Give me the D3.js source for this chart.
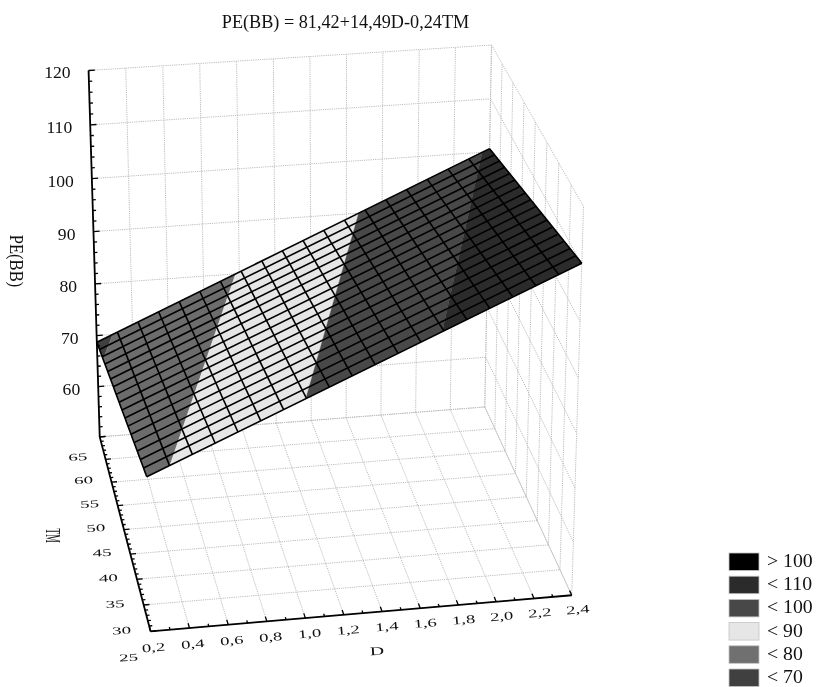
<!DOCTYPE html>
<html>
<head>
<meta charset="utf-8">
<style>
html,body{margin:0;padding:0;background:#fff;}
svg{display:block;filter:blur(0.4px);}
text{font-family:"Liberation Serif",serif;fill:#111;}
</style>
<script src="https://cdnjs.cloudflare.com/ajax/libs/d3/7.8.5/d3.min.js"></script>
</head>
<body>
<svg id="chart" width="816" height="687"></svg>
<script>
// ---- data ----
const titleText = "PE(BB) = 81,42+14,49D-0,24TM";
const dTicks = [0.2,0.4,0.6,0.8,1.0,1.2,1.4,1.6,1.8,2.0,2.2,2.4];
const tmTicks = [25,30,35,40,45,50,55,60,65];
const peTicks = [50,60,70,80,90,100,110,120];
const peLabelled = [60,70,80,90,100,110,120];
// Fitted plane read at its four corners: rows are TM, columns are D
const surfaceTM = [25,65];
const surfaceD = [0.2,2.4];
const surfacePE = [[78.3,110.2],[68.7,100.6]];
const meshCellsD = 19;
const meshCellsTM = 17;
// Contour bands (upper limit) and legend
const bandLimits = [70,80,90,100,110,130];
const bandColors = ["#3f3f3f","#6c6c6c","#e6e6e6","#484848","#2b2b2b","#000000"];
const legendLabels = ["> 100","< 110","< 100","< 90","< 80","< 70"];
const legendColors = ["#000000","#2b2b2b","#484848","#e6e6e6","#707070","#404040"];

// ---- scales: each axis maps to the unit cube ----
const sD = d3.scaleLinear().domain([0.2,2.4]).range([0,1]);
const sTM = d3.scaleLinear().domain([25,65]).range([0,1]);
const sPE = d3.scaleLinear().domain([50,120]).range([0,1]);

// ---- camera calibrated on the box corners ----
const calibration = [
  [0.2,65,120, 89,70],[2.4,65,120, 491,45],[2.4,25,120, 584,207],
  [0.2,65,50, 100,437],[2.4,65,50, 485,407],[2.4,25,50, 572,595],[0.2,25,50, 150,631],
  [0.2,65,68.7, 96.7,343],[0.2,25,78.3, 146.7,476.7],[2.4,65,100.6, 489.3,148.3],[2.4,25,110.2, 581.7,263.3]
];
function solveCamera(pts){
  const rows=[],rhs=[];
  pts.forEach(([d,t,p,x,y])=>{
    const X=sD(d),Y=sTM(t),Z=sPE(p);
    rows.push([X,Y,Z,1,0,0,0,0,-x*X,-x*Y,-x*Z]);rhs.push(x);
    rows.push([0,0,0,0,X,Y,Z,1,-y*X,-y*Y,-y*Z]);rhs.push(y);
  });
  const n=11,A=[];
  for(let i=0;i<n;i++){
    A.push(new Array(n+1).fill(0));
    for(let j=0;j<n;j++) rows.forEach(r=>{A[i][j]+=r[i]*r[j];});
    rows.forEach((r,k)=>{A[i][n]+=r[i]*rhs[k];});
  }
  for(let c=0;c<n;c++){
    let piv=c;
    for(let r=c+1;r<n;r++) if(Math.abs(A[r][c])>Math.abs(A[piv][c])) piv=r;
    [A[c],A[piv]]=[A[piv],A[c]];
    for(let r=0;r<n;r++){
      if(r===c) continue;
      const f=A[r][c]/A[c][c];
      for(let k=c;k<=n;k++) A[r][k]-=f*A[c][k];
    }
  }
  return A.map((r,i)=>r[n]/r[i]);
}
const cam = solveCamera(calibration);
function project(d,t,p){
  const X=sD(d),Y=sTM(t),Z=sPE(p);
  const w=cam[8]*X+cam[9]*Y+cam[10]*Z+1;
  return [(cam[0]*X+cam[1]*Y+cam[2]*Z+cam[3])/w,(cam[4]*X+cam[5]*Y+cam[6]*Z+cam[7])/w];
}
const line3 = d3.line().x(q=>project(q[0],q[1],q[2])[0]).y(q=>project(q[0],q[1],q[2])[1]);

const svg = d3.select("#chart");
const gGrid = svg.append("g").attr("fill","none").attr("stroke","#bcbcbc").attr("stroke-width",1).attr("stroke-dasharray","1.2 1");
const seg = (g,a,b)=>g.append("path").attr("d",line3([a,b]));

// ---- floor and walls ----
const [dMin,dMax]=[dTicks[0],dTicks[dTicks.length-1]];
const [tMin,tMax]=[tmTicks[0],tmTicks[tmTicks.length-1]];
const [pMin,pMax]=[peTicks[0],peTicks[peTicks.length-1]];
dTicks.forEach(d=>{ seg(gGrid,[d,tMin,pMin],[d,tMax,pMin]); seg(gGrid,[d,tMax,pMin],[d,tMax,pMax]); });
tmTicks.forEach(t=>{ seg(gGrid,[dMin,t,pMin],[dMax,t,pMin]); seg(gGrid,[dMax,t,pMin],[dMax,t,pMax]); });
peTicks.forEach(p=>{ seg(gGrid,[dMin,tMax,p],[dMax,tMax,p]); seg(gGrid,[dMax,tMax,p],[dMax,tMin,p]); });

// ---- surface ----
const corners = [
  [surfaceD[0],surfaceTM[0],surfacePE[0][0]],
  [surfaceD[1],surfaceTM[0],surfacePE[0][1]],
  [surfaceD[1],surfaceTM[1],surfacePE[1][1]],
  [surfaceD[0],surfaceTM[1],surfacePE[1][0]]
];
function clipBelow(poly,limit,keepBelow){
  const out=[];
  poly.forEach((a,i)=>{
    const b=poly[(i+1)%poly.length];
    const ia=keepBelow?a[2]<=limit:a[2]>=limit, ib=keepBelow?b[2]<=limit:b[2]>=limit;
    if(ia) out.push(a);
    if(ia!==ib){
      const f=(limit-a[2])/(b[2]-a[2]);
      out.push([a[0]+f*(b[0]-a[0]),a[1]+f*(b[1]-a[1]),limit]);
    }
  });
  return out;
}
const gBands = svg.append("g");
bandLimits.forEach((hi,i)=>{
  const lo=i?bandLimits[i-1]:-1e9;
  const poly=clipBelow(clipBelow(corners,hi,true),lo,false);
  if(poly.length>2) gBands.append("path").attr("d",line3(poly)+"Z").attr("fill",bandColors[i]).attr("stroke",bandColors[i]).attr("stroke-width",.3);
});
const meshD = d3.scaleLinear().domain([0,meshCellsD]).range(surfaceD);
const meshT = d3.scaleLinear().domain([0,meshCellsTM]).range(surfaceTM);
const peAt = (u,v)=>d3.interpolateNumber(
  d3.interpolateNumber(surfacePE[0][0],surfacePE[0][1])(u),
  d3.interpolateNumber(surfacePE[1][0],surfacePE[1][1])(u))(v);
const gMesh = svg.append("g").attr("fill","none").attr("stroke","#000").attr("stroke-width",1.6).attr("stroke-linejoin","round");
d3.range(meshCellsD+1).forEach(i=>{
  const u=i/meshCellsD;
  seg(gMesh,[meshD(i),surfaceTM[0],peAt(u,0)],[meshD(i),surfaceTM[1],peAt(u,1)]);
});
d3.range(meshCellsTM+1).forEach(i=>{
  const v=i/meshCellsTM;
  seg(gMesh,[surfaceD[0],meshT(i),peAt(0,v)],[surfaceD[1],meshT(i),peAt(1,v)]);
});

// ---- axes ----
const gAxis = svg.append("g").attr("fill","none").attr("stroke","#000");
const axisW=1.8, tickW=1.3;
const sw = (p,w)=>p.attr("stroke-width",w);
sw(seg(gAxis,[dMin,tMax,pMin],[dMin,tMax,pMax]),axisW);
sw(seg(gAxis,[dMin,tMax,pMin],[dMin,tMin,pMin]),axisW);
sw(seg(gAxis,[dMin,tMin,pMin],[dMax,tMin,pMin]),axisW);
d3.range(pMin,pMax+.01,2).forEach(p=>{
  const len=(p%10===0)?0.034:0.018;
  sw(seg(gAxis,[dMin,tMax,p],[dMin+len,tMax,p]),tickW);
});
d3.range(tMin,tMax+.01,1).forEach(t=>{
  const len=(t%5===0)?0.03:0.016;
  sw(seg(gAxis,[dMin,t,pMin],[dMin+len,t,pMin]),tickW);
});
d3.range(0,22+1).forEach(k=>{
  const d=0.2+k*0.1, len=(k%2===0)?0.9:0.5;
  sw(seg(gAxis,[d,tMin,pMin],[d,tMin+len,pMin]),tickW);
});

// ---- text ----
const fmt = v=>v.toFixed(1).replace(".",",");
function flat(x,y,txt,sx,sy,rot,size){
  svg.append("text").attr("transform",`translate(${x},${y}) rotate(${rot}) scale(${sx},${sy})`)
    .attr("text-anchor","middle").attr("dominant-baseline","central")
    .style("font-size",(size||17.3)+"px").text(txt);
}
svg.append("text").attr("x",345.5).attr("y",27.5).attr("text-anchor","middle").style("font-size","18.2px").text(titleText);
peLabelled.forEach(p=>{
  const [x,y]=project(dMin,tMax,p);
  svg.append("text").attr("x",x-18).attr("y",y+2).attr("text-anchor","end").attr("dominant-baseline","central")
    .style("font-size","17.6px").text(p);
});
const dDx=d3.scaleLinear().domain([0.2,2.4]).range([3,6]);
const dDy=d3.scaleLinear().domain([0.2,2.4]).range([16,14]);
dTicks.forEach(d=>{
  const [x,y]=project(d,tMin,pMin);
  flat(x+dDx(d),y+dDy(d),fmt(d),1.08,.68,-5);
});
const tDy=d3.scaleLinear().domain([25,65]).range([26,20]);
tmTicks.forEach(t=>{
  const [x,y]=project(dMin,t,pMin);
  flat(x-22,y+tDy(t),t,1.1,.6,-3);
});
flat(16,261,"PE(BB)",1,1.12,90,16.6);
flat(52,535.5,"TM",.56,1.2,90);
flat(377,651,"D",1.15,.68,-3);

// ---- legend ----
const legendY = d3.scalePoint().domain(legendLabels).range([553,669]);
const gLegend = svg.append("g");
legendLabels.forEach((l,i)=>{
  const y=legendY(l);
  gLegend.append("rect").attr("x",729).attr("y",y).attr("width",30).attr("height",17.5)
    .attr("fill",legendColors[i]).attr("stroke","#c4c4c4").attr("stroke-width",.8);
  gLegend.append("text").attr("transform",`translate(767,${y+7.8}) scale(1.07,1)`).attr("dominant-baseline","central")
    .style("font-size","18.5px").text(l);
});
</script>
</body>
</html>
